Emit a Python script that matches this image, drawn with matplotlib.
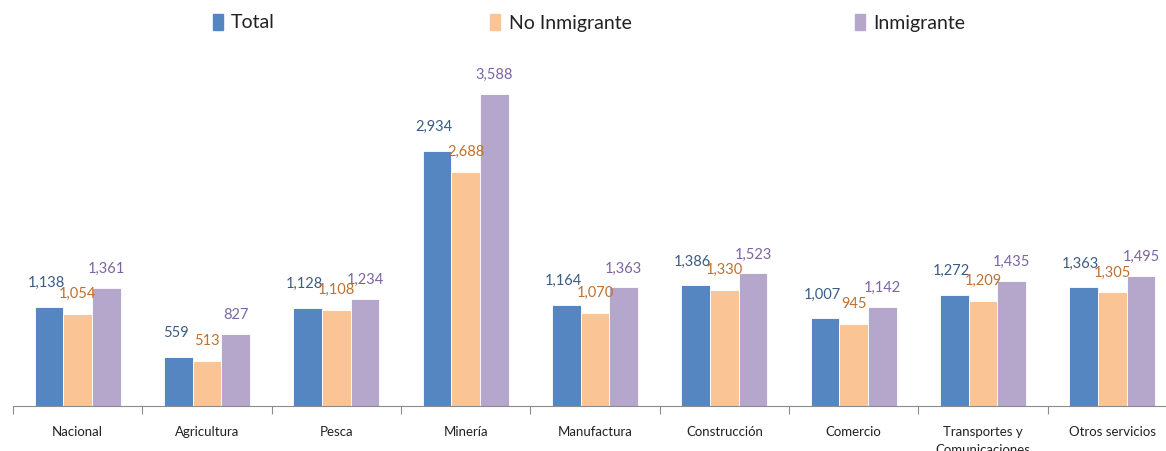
import numpy as np
import matplotlib.pyplot as plt
from matplotlib.patches import Rectangle

categories = ["Nacional", "Agricultura", "Pesca", "Minería", "Manufactura",
              "Construcción", "Comercio", "Transportes y\nComunicaciones", "Otros servicios"]
total = [1138, 559, 1128, 2934, 1164, 1386, 1007, 1272, 1363]
no_inmigrante = [1054, 513, 1108, 2688, 1070, 1330, 945, 1209, 1305]
inmigrante = [1361, 827, 1234, 3588, 1363, 1523, 1142, 1435, 1495]

series = [("Total", total, "#5586C2", "#3B5C84"),
          ("No Inmigrante", no_inmigrante, "#FAC495", "#C0702F"),
          ("Inmigrante", inmigrante, "#B5A6CC", "#7C64A3")]

plt.rcParams['font.family'] = ['Lato', 'DejaVu Sans']

fig = plt.figure(figsize=(11.66, 4.52), dpi=100)
ax = fig.add_axes([13 / 1166, 1 - 407 / 452, 1164 / 1166, 348 / 452])

x = np.arange(len(categories))
w = 0.222
offsets = [-w, 0, w]
label_lift = [25, 21, 20]
for (name, vals, col, tcol), off, lift in zip(series, offsets, label_lift):
    ax.bar(x + off, vals, width=w, color=col, edgecolor="white", linewidth=0.6)
    for xi, v in zip(x, vals):
        ax.annotate(f"{v:,}", (xi + off, v), xytext=(-2 if off < 0 else 0, lift * 0.72),
                    textcoords="offset points", ha="center", va="center",
                    fontsize=10.5, color=tcol)

ax.set_xlim(-0.5, len(categories) - 0.5)
ax.set_ylim(0, 4000)
ax.set_yticks([])
for s in ["top", "right", "left"]:
    ax.spines[s].set_visible(False)
ax.spines["bottom"].set_color("#8C8C8C")
ax.set_xticks(np.arange(len(categories) + 1) - 0.5)
ax.set_xticklabels([])
ax.tick_params(axis="x", which="major", length=6, color="#8C8C8C", direction="out")
ax.set_xticks(x, minor=True)
ax.set_xticklabels(categories, minor=True, fontsize=9.5, color="#222222", va="top",
                   linespacing=1.55)
ax.tick_params(axis="x", which="minor", length=0, pad=14)

# legend at top
legend_pos = [(213, 231), (490, 509), (855, 873)]
for (name, vals, col, tcol), (mx, tx) in zip(series, legend_pos):
    fig.patches.append(Rectangle((mx / 1166, 1 - 31 / 452), 10 / 1166, 16 / 452,
                                 transform=fig.transFigure, color=col))
    fig.text(tx / 1166, 1 - 23 / 452, name, fontsize=14, color="#222222",
             ha="left", va="center")

fig.savefig("out.png", dpi=100)
